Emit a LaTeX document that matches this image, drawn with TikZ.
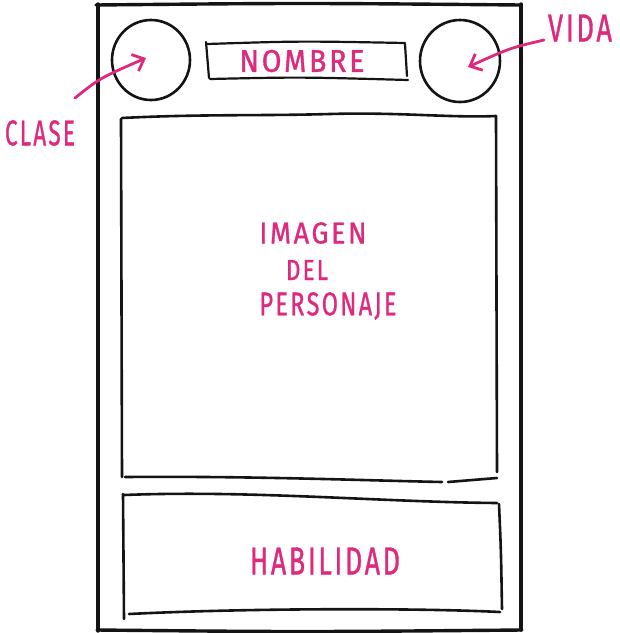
\documentclass[tikz,border=0pt]{standalone}
\usepackage{fontspec}
\setmainfont{Fira Sans}
\newfontfamily\handfont[LetterSpace=10,FakeBold=1.2]{Fira Sans}
\usetikzlibrary{arrows.meta,shapes.geometric}
\definecolor{inkpink}{HTML}{DE2A7C}
\definecolor{inkblack}{HTML}{141414}
% lettering squeezed to a given width and cap height
\newcommand\lettering[3]{\resizebox{#1}{#2}{#3}}
\tikzset{
  ink/.style={draw=inkblack, line width=2.6pt, line cap=round, line join=round},
  heavyink/.style={ink, line width=3.4pt},
  fineink/.style={ink, line width=2.2pt},
  label/.style={text=inkpink, font=\handfont\fontsize{30}{32}\selectfont, inner sep=0pt},
  pointer/.style={draw=inkpink, line width=2.8pt, line cap=round,
    -{Straight Barb[length=10pt,width=18pt,line width=2.8pt]}}
}
\begin{document}
\begin{tikzpicture}[x=1pt,y=-1pt]
\useasboundingbox (0,0) rectangle (620,633);

% outer card
\draw[heavyink] (96,5) .. controls (300,3) .. (521,5);
\draw[heavyink] (98,4) -- (98,631);
\draw[heavyink] (521,4) -- (521,630);
\draw[heavyink] (97,630) .. controls (300,632) .. (522,630);

% class and life badges
\node[ink, ellipse, minimum width=78pt, minimum height=80pt, inner sep=0pt] (clase) at (151,60) {};
\node[ink, ellipse, minimum width=80pt, minimum height=82pt, inner sep=0pt] (vida) at (460,61) {};

% name banner
\draw[fineink] (207,44) .. controls (300,41) .. (405,43);
\draw[fineink] (206,42) -- (209,78);
\draw[fineink] (405,44) -- (407,76);
\draw[fineink] (210,79) .. controls (300,77) .. (408,80);
\node[label] (nombre) at (302,61) {\lettering{125pt}{22pt}{NOMBRE}};

% portrait frame
\draw[ink] (122,118) .. controls (200,114) and (260,116) .. (330,114)
  .. controls (400,112) and (450,118) .. (496,116);
\draw[ink] (121,119) -- (122,477);
\draw[ink] (496,116) -- (497,472);
\draw[ink] (125,477) .. controls (250,476) and (350,480) .. (442,482);
\draw[ink] (448,482) -- (497,478);
\node[label] (img1) at (313,233) {\lettering{107pt}{21pt}{IMAGEN}};
\node[label] (img2) at (307,270) {\lettering{42pt}{20pt}{DEL}};
\node[label] (img3) at (328,306) {\lettering{137pt}{23pt}{PERSONAJE}};

% ability panel
\draw[ink] (124,495) .. controls (250,490) and (380,502) .. (497,503);
\draw[ink] (123,494) -- (124,619);
\draw[ink] (499,504) .. controls (501,550) .. (502,609);
\draw[ink] (129,614) .. controls (250,608) and (420,608) .. (500,612);
\node[label] (hab) at (325,561) {\lettering{150pt}{27pt}{HABILIDAD}};

% annotations
\node[label] (claseT) at (40,133) {\lettering{70pt}{25pt}{CLASE}};
\node[label] (vidaT) at (580,28) {\lettering{64pt}{27pt}{VIDA}};
\coordinate (claseTail) at (75,98);
\coordinate (claseTip) at (146,58);
\coordinate (vidaTail) at (544,40);
\coordinate (vidaTip) at (468,67);
\draw[pointer] (claseTail) .. controls (100,78) .. (claseTip);
\draw[pointer] (vidaTail) .. controls (510,48) .. (vidaTip);
\end{tikzpicture}
\end{document}
